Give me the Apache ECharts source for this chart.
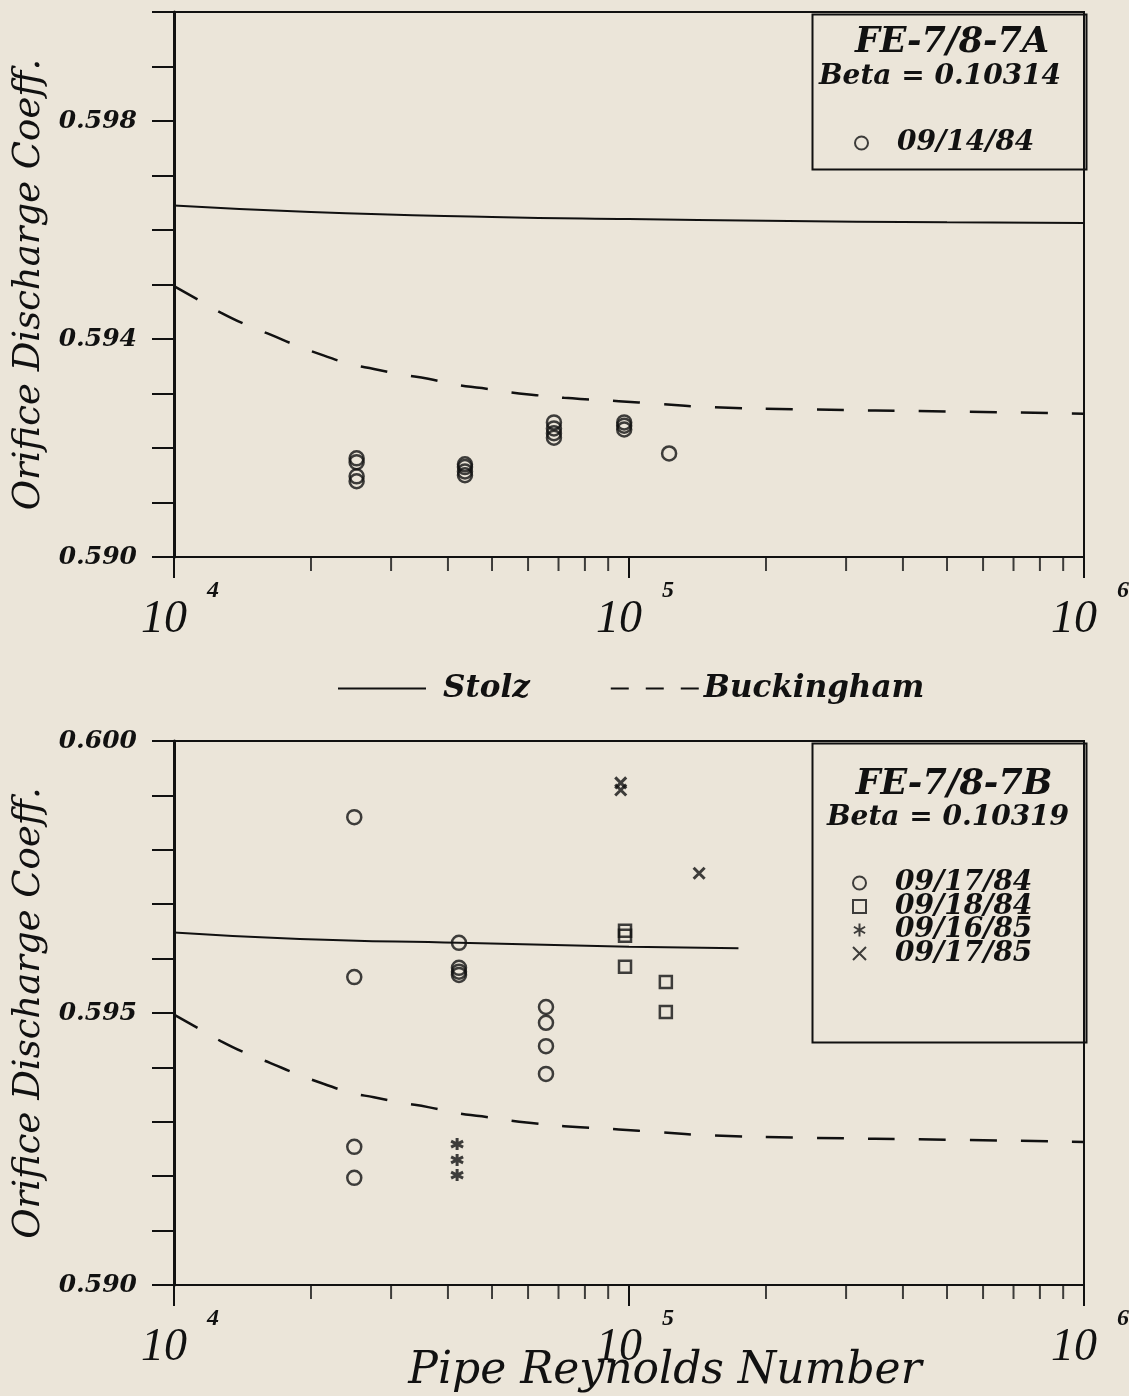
<!DOCTYPE html>
<html>
<head>
    <meta charset="utf-8">
    <title>Orifice Discharge Coeff.</title>
    <script src="https://cdn.jsdelivr.net/npm/echarts@6/dist/echarts.min.js"></script>
    <style>
        body { margin: 0; background: #ebe5d9; }
    </style>
</head>
<body>
<div id="main" style="width: 1129px;height:1396px;"></div>
<script type="text/javascript">
    // Stolz curve (top plot runs to 10^6, bottom plot stops near 1.7e5)
    var stolzReTop = [1e4, 2e4, 5e4, 1e5, 2e5, 5e5, 1e6];
    var stolzCdTop = [0.59645, 0.59633, 0.59624, 0.59620, 0.59617, 0.59614, 0.59613];
    var stolzReBot = [1e4, 1.89e4, 4.23e4, 1e5, 1.74e5];
    var stolzCdBot = [0.59648, 0.59636, 0.59629, 0.59622, 0.59619];

    // Buckingham curve (same in both plots)
    var buckRe = [1e4, 1.13e4, 1.27e4, 1.45e4, 1.63e4, 1.86e4, 2.13e4, 2.44e4, 2.75e4, 3.17e4, 3.62e4, 4.19e4,
                  4.75e4, 5.49e4, 6.25e4, 7.2e4, 8.22e4, 9.5e4, 1.16e5, 1.52e5, 2.37e5, 5.1e5, 1e6];
    var buckCd = [0.59497, 0.59472, 0.59448, 0.59425, 0.59408, 0.59388, 0.59370, 0.59354, 0.59345, 0.59335, 0.59327, 0.59316,
                  0.59310, 0.59302, 0.59297, 0.59292, 0.59289, 0.59286, 0.59281, 0.59275, 0.59271, 0.59267, 0.59263];

    // FE-7/8-7A test points
    var re091484 = [25200, 25200, 25200, 25200, 43600, 43600, 43600, 43600, 68400, 68400, 68400, 68400, 97600, 97600, 97600, 122500];
    var cd091484 = [0.59181, 0.59174, 0.59148, 0.59139, 0.59170, 0.59165, 0.59157, 0.59150,
                    0.59247, 0.59236, 0.59227, 0.59219, 0.59247, 0.59241, 0.59234, 0.59190];

    // FE-7/8-7B test points
    var re091784 = [24900, 24900, 24900, 24900, 42300, 42300, 42300, 42300, 65700, 65700, 65700, 65700];
    var cd091784 = [0.59860, 0.59566, 0.59254, 0.59197, 0.59629, 0.59583, 0.59576, 0.59570, 0.59511, 0.59482, 0.59439, 0.59388];
    var re091884 = [98000, 98000, 98000, 120500, 120500];
    var cd091884 = [0.59651, 0.59642, 0.59585, 0.59557, 0.59502];
    var re091685 = [41900, 41900, 41900];
    var cd091685 = [0.59259, 0.59230, 0.59202];
    var re091785 = [95900, 95900, 142600];
    var cd091785 = [0.59923, 0.59910, 0.59757];

    // axis tick labels
    var yLabelsTop = ['0.590', '0.594', '0.598'];
    var yLabelsBot = ['0.590', '0.595', '0.600'];
    var minorTickRe = [2e4, 3e4, 4e4, 5e4, 6e4, 7e4, 8e4, 9e4, 2e5, 3e5, 4e5, 5e5, 6e5, 7e5, 8e5, 9e5];

    function pairs(xs, ys) {
        var out = [];
        for (var i = 0; i < xs.length; i++) {
            out.push([xs[i], ys[i]]);
        }
        return out;
    }

    var ink = '#111';
    var serif = '"DejaVu Serif"';
    var starPath = 'path://M5,0L5,10M0.7,2.5L9.3,7.5M0.7,7.5L9.3,2.5';
    var crossPath = 'path://M0,0L10,10M0,10L10,0';

    function xAxis(idx, withName) {
        var ax = {
            type: 'log', logBase: 10, gridIndex: idx, min: 1e4, max: 1e6,
            axisLine: { lineStyle: { color: ink, width: 2 } },
            axisTick: { length: 21, lineStyle: { color: ink, width: 2 } },
            splitLine: { show: false },
            axisLabel: {
                margin: 22,
                formatter: function (v) {
                    return '{b|10}{s|' + Math.round(Math.log10(v)) + '}';
                },
                rich: {
                    b: { fontFamily: '"Liberation Serif"', fontStyle: 'italic', fontSize: 46, color: ink,
                         verticalAlign: 'bottom', padding: [0, 0, 0, 12] },
                    s: { fontFamily: '"Liberation Serif"', fontStyle: 'italic', fontWeight: 'bold', fontSize: 24,
                         color: ink, verticalAlign: 'top', padding: [0, 0, 40, 20] }
                }
            }
        };
        if (withName) {
            ax.name = 'Pipe Reynolds Number';
            ax.nameLocation = 'middle';
            ax.nameGap = 65;
            ax.nameMoveOverlap = false;
            ax.nameTextStyle = { fontFamily: serif, fontStyle: 'italic', fontSize: 44, color: ink, padding: [0, 0, 0, 72] };
        }
        return ax;
    }

    function yAxis(idx, labels) {
        return {
            type: 'value', gridIndex: idx, min: 0.590, max: 0.600, interval: 0.001,
            name: 'Orifice Discharge Coeff.',
            nameLocation: 'middle', nameRotate: 90, nameGap: 126, nameMoveOverlap: false,
            nameTextStyle: { fontFamily: serif, fontStyle: 'italic', fontSize: 37, color: ink },
            axisLine: { lineStyle: { color: ink, width: 3 } },
            axisTick: { length: 22, lineStyle: { color: ink, width: 2 } },
            splitLine: { show: false },
            axisLabel: {
                margin: 37,
                fontFamily: serif, fontStyle: 'italic', fontWeight: 'bold', fontSize: 25, color: ink,
                formatter: function (v) {
                    var s = v.toFixed(3);
                    return labels.indexOf(s) >= 0 ? s : '';
                }
            }
        };
    }

    function lineSeries(name, idx, xs, ys, dashed) {
        return {
            name: name, type: 'line', xAxisIndex: idx, yAxisIndex: idx,
            data: pairs(xs, ys), symbol: 'none', smooth: true,
            lineStyle: { color: ink, width: dashed ? 2.5 : 2, type: dashed ? [27, 24] : 'solid' },
            itemStyle: { color: ink }, z: 3
        };
    }

    function pointSeries(name, idx, xs, ys, symbol, size, bw) {
        return {
            name: name, type: 'scatter', xAxisIndex: idx, yAxisIndex: idx,
            data: pairs(xs, ys), symbol: symbol, symbolSize: size,
            itemStyle: { color: 'rgba(0,0,0,0)', borderColor: ink, borderWidth: bw }, z: 4
        };
    }

    function minorTicks(idx) {
        var ys = minorTickRe.map(function () { return 0.590; });
        return {
            type: 'scatter', xAxisIndex: idx, yAxisIndex: idx, silent: true, clip: false,
            data: pairs(minorTickRe, ys), symbol: 'rect', symbolSize: [2, 14], symbolOffset: [0, 7],
            itemStyle: { color: ink }, z: 5
        };
    }

    var legendText = { fontFamily: serif, fontStyle: 'italic', fontWeight: 'bold', fontSize: 28, color: ink };
    var hideDot = { opacity: 0, color: 'rgba(0,0,0,0)', borderWidth: 0 };

    var myChart = echarts.init(document.getElementById('main'));
    myChart.setOption({
        backgroundColor: '#ebe5d9',
        animation: false,
        grid: [
            { left: 174, top: 12, width: 910, height: 545, show: true, borderColor: ink, borderWidth: 2, outerBoundsMode: 'none' },
            { left: 174, top: 741, width: 910, height: 544, show: true, borderColor: ink, borderWidth: 2, outerBoundsMode: 'none' }
        ],
        xAxis: [xAxis(0, false), xAxis(1, true)],
        yAxis: [yAxis(0, yLabelsTop), yAxis(1, yLabelsBot)],
        legend: [
            {
                data: [
                    { name: 'Stolz', itemStyle: hideDot, lineStyle: { type: 'solid', width: 2 }, textStyle: { padding: [0, 0, 0, 12] } },
                    { name: 'Buckingham', itemStyle: hideDot, lineStyle: { type: [18, 17], width: 2 } }
                ],
                left: 332, top: 668, itemWidth: 88, itemHeight: 20, itemGap: 80, selectedMode: false,
                textStyle: { fontFamily: serif, fontStyle: 'italic', fontWeight: 'bold', fontSize: 31, color: ink }
            },
            {
                data: ['09/14/84'], orient: 'vertical', left: 849, top: 124,
                itemWidth: 13, itemHeight: 13, selectedMode: false,
                textStyle: Object.assign({ padding: [0, 0, 0, 24], lineHeight: 22 }, legendText)
            },
            {
                data: ['09/17/84', '09/18/84', '09/16/85', '09/17/85'], orient: 'vertical', left: 847, top: 864,
                itemWidth: 13, itemHeight: 13, itemGap: -4.5, selectedMode: false,
                textStyle: Object.assign({ padding: [0, 0, 0, 24], lineHeight: 22 }, legendText)
            }
        ],
        graphic: [
            { type: 'rect', left: 810, top: 12, shape: { width: 274, height: 155 }, style: { fill: 'none', stroke: ink, lineWidth: 2 } },
            { type: 'rect', left: 810, top: 741, shape: { width: 274, height: 299 }, style: { fill: 'none', stroke: ink, lineWidth: 2 } },
            { type: 'text', x: 952, y: 43, style: { text: 'FE-7/8-7A', font: 'italic bold 35px "DejaVu Serif"', fill: ink, textAlign: 'center', textVerticalAlign: 'middle' } },
            { type: 'text', x: 940, y: 77, style: { text: 'Beta = 0.10314', font: 'italic bold 28px "DejaVu Serif"', fill: ink, textAlign: 'center', textVerticalAlign: 'middle' } },
            { type: 'text', x: 954, y: 785, style: { text: 'FE-7/8-7B', font: 'italic bold 35px "DejaVu Serif"', fill: ink, textAlign: 'center', textVerticalAlign: 'middle' } },
            { type: 'text', x: 948, y: 818, style: { text: 'Beta = 0.10319', font: 'italic bold 28px "DejaVu Serif"', fill: ink, textAlign: 'center', textVerticalAlign: 'middle' } }
        ],
        series: [
            lineSeries('Stolz', 0, stolzReTop, stolzCdTop, false),
            lineSeries('Buckingham', 0, buckRe, buckCd, true),
            pointSeries('09/14/84', 0, re091484, cd091484, 'circle', 14, 2.5),
            minorTicks(0),

            lineSeries('Stolz', 1, stolzReBot, stolzCdBot, false),
            lineSeries('Buckingham', 1, buckRe, buckCd, true),
            pointSeries('09/17/84', 1, re091784, cd091784, 'circle', 14, 2.5),
            pointSeries('09/18/84', 1, re091884, cd091884, 'rect', 12, 2.5),
            pointSeries('09/16/85', 1, re091685, cd091685, starPath, 12, 3),
            pointSeries('09/17/85', 1, re091785, cd091785, crossPath, 11, 3),
            minorTicks(1)
        ]
    });
</script>
</body>
</html>
